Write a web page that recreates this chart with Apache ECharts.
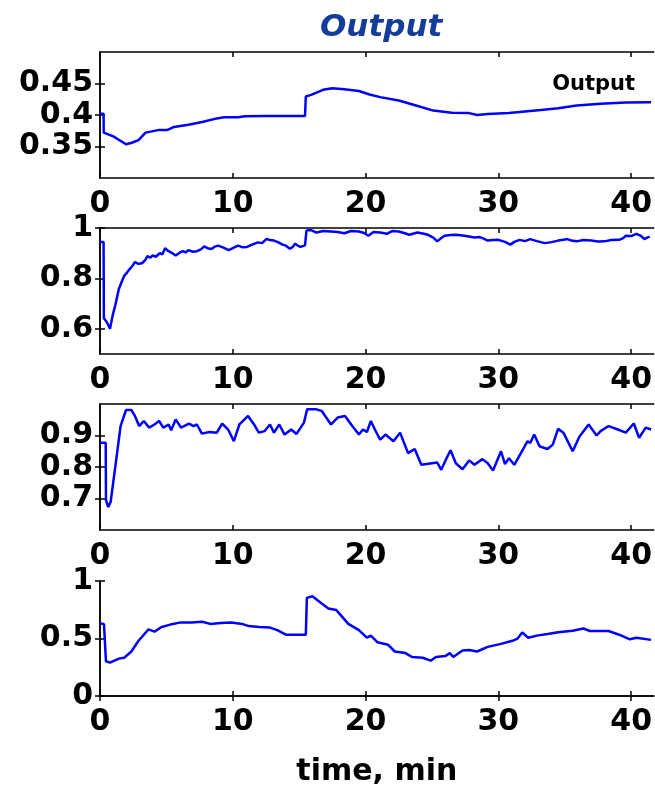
<!DOCTYPE html>
<html style="height: 100%">
<head>
  <meta charset="utf-8">
  <script src="https://cdn.jsdelivr.net/npm/echarts@6/dist/echarts.min.js"></script>
</head>
<body style="height: 100%; margin: 0; background: #fff">
<div id="main" style="width: 655px; height: 788px;"></div>
<script type="text/javascript">
// x tick labels (min) shared by all four panels
var xTicks = [0, 10, 20, 30, 40];

// panel 1 : Output
var t1 = [0, 0.27, 0.28, 1.0, 1.96, 2.4, 2.9, 3.43, 4.37, 5.04, 5.58, 6.65, 7.7, 8.8, 9.33, 10.4, 10.9, 12.5, 14.0, 15.44,
          15.5, 15.9, 16.8, 17.5, 18.4, 19.5, 20.3, 21.1, 22.5, 23.8, 25.1, 26.5, 27.8, 28.4, 29.2, 30.8, 31.8, 33.2,
          34.5, 35.9, 37.7, 39.6, 41.5];
var y1 = [0.402, 0.402, 0.372, 0.366, 0.3535, 0.356, 0.360, 0.372, 0.376, 0.376, 0.381, 0.3845, 0.389, 0.3946, 0.3963,
          0.3963, 0.398, 0.3984, 0.3984, 0.3984, 0.4294, 0.432, 0.440, 0.4423, 0.441, 0.438, 0.4326, 0.4284, 0.423,
          0.415, 0.407, 0.4037, 0.403, 0.400, 0.4016, 0.403, 0.4053, 0.408, 0.4107, 0.415, 0.4177, 0.4198, 0.4203];
var yTicks1 = [0.35, 0.4, 0.45];

// panel 2
var t2 = [0, 0.27, 0.29, 0.48, 0.62, 0.75, 0.97, 1.15, 1.42, 1.62, 1.82, 2.02, 2.22, 2.45, 2.63, 2.9, 3.16, 3.4, 3.57,
          3.8, 3.97, 4.2, 4.5, 4.7, 4.9, 5.1, 5.3, 5.5, 5.7, 6.0, 6.25, 6.45, 6.65, 7.0, 7.3, 7.6, 7.85, 8.1, 8.4, 8.65,
          8.9, 9.3, 9.7, 10.0, 10.4, 10.7, 11.07, 11.5, 11.9, 12.2, 12.55, 12.8, 13.1, 13.4, 13.75, 14.0, 14.3, 14.5,
          14.7, 14.9, 15.1, 15.44, 15.55, 15.9, 16.3, 16.8, 17.4, 17.9, 18.4, 18.9, 19.5, 19.9, 20.2, 20.6, 21.1, 21.6,
          22.0, 22.5, 22.9, 23.3, 23.9, 24.3, 24.7, 25.1, 25.4, 25.7, 25.95, 26.4, 26.8, 27.3, 27.8, 28.2, 28.6, 28.9,
          29.2, 29.6, 30.0, 30.5, 30.9, 31.2, 31.6, 32.0, 32.4, 32.9, 33.5, 34.0, 34.5, 34.9, 35.2, 35.5, 35.9, 36.4,
          37.0, 37.5, 38.0, 38.5, 39.1, 39.4, 39.6, 40.0, 40.4, 40.7, 41.0, 41.2, 41.4];
var y2 = [0.944, 0.944, 0.642, 0.629, 0.615, 0.600, 0.657, 0.693, 0.758, 0.785, 0.810, 0.822, 0.836, 0.850, 0.865, 0.858,
          0.860, 0.872, 0.888, 0.882, 0.891, 0.886, 0.900, 0.896, 0.920, 0.910, 0.904, 0.898, 0.891, 0.902, 0.908, 0.903,
          0.912, 0.906, 0.908, 0.915, 0.927, 0.920, 0.917, 0.926, 0.930, 0.922, 0.912, 0.920, 0.930, 0.924, 0.925, 0.935,
          0.943, 0.940, 0.957, 0.952, 0.950, 0.944, 0.934, 0.930, 0.918, 0.924, 0.938, 0.930, 0.925, 0.931, 0.990, 0.992,
          0.982, 0.988, 0.986, 0.984, 0.979, 0.988, 0.986, 0.980, 0.969, 0.984, 0.982, 0.977, 0.988, 0.986, 0.980, 0.973,
          0.982, 0.978, 0.973, 0.962, 0.947, 0.960, 0.969, 0.972, 0.973, 0.970, 0.966, 0.962, 0.964, 0.958, 0.950, 0.952,
          0.953, 0.945, 0.934, 0.945, 0.953, 0.948, 0.956, 0.948, 0.940, 0.944, 0.950, 0.953, 0.956, 0.950, 0.947, 0.952,
          0.950, 0.946, 0.947, 0.952, 0.953, 0.960, 0.969, 0.968, 0.977, 0.970, 0.956, 0.962, 0.966];
var yTicks2 = [0.6, 0.8, 1];

// panel 3
var t3 = [0, 0.43, 0.45, 0.62, 0.8, 1.15, 1.55, 1.96, 2.36, 2.63, 2.95, 3.3, 3.7, 4.1, 4.45, 4.77, 5.17, 5.36, 5.7, 6.1,
          6.7, 7.05, 7.3, 7.67, 8.25, 8.8, 9.2, 9.65, 10.08, 10.5, 11.15, 11.6, 11.96, 12.4, 12.8, 13.1, 13.5, 13.9, 14.4,
          14.8, 15.36, 15.6, 16.3, 16.7, 17.4, 17.9, 18.45, 19.0, 19.5, 19.8, 20.1, 20.4, 20.7, 21.1, 21.5, 22.1, 22.6,
          23.2, 23.7, 24.2, 25.0, 25.4, 25.7, 26.1, 26.4, 26.8, 27.3, 27.8, 28.2, 28.8, 29.2, 29.6, 30.2, 30.5, 30.8,
          31.2, 31.7, 32.2, 32.4, 32.7, 33.1, 33.7, 34.1, 34.5, 34.9, 35.6, 36.1, 36.8, 37.4, 37.7, 38.3, 39.0, 39.6,
          40.2, 40.6, 41.1, 41.5];
var y3 = [0.877, 0.877, 0.695, 0.673, 0.689, 0.800, 0.930, 0.981, 0.981, 0.962, 0.930, 0.946, 0.925, 0.935, 0.946, 0.925,
          0.935, 0.917, 0.951, 0.925, 0.938, 0.930, 0.935, 0.906, 0.911, 0.909, 0.938, 0.919, 0.882, 0.935, 0.962, 0.935,
          0.909, 0.914, 0.935, 0.909, 0.935, 0.903, 0.919, 0.905, 0.941, 0.983, 0.983, 0.978, 0.935, 0.957, 0.962, 0.930,
          0.903, 0.919, 0.911, 0.946, 0.919, 0.887, 0.903, 0.882, 0.909, 0.844, 0.857, 0.807, 0.812, 0.814, 0.791, 0.828,
          0.853, 0.812, 0.793, 0.821, 0.807, 0.825, 0.812, 0.789, 0.850, 0.809, 0.828, 0.807, 0.844, 0.882, 0.876, 0.903,
          0.866, 0.857, 0.871, 0.921, 0.909, 0.850, 0.896, 0.935, 0.900, 0.914, 0.930, 0.919, 0.909, 0.938, 0.893, 0.925,
          0.919];
var yTicks3 = [0.7, 0.8, 0.9];

// panel 4
var t4 = [0, 0.3, 0.43, 0.45, 0.75, 1.42, 1.82, 2.36, 2.9, 3.3, 3.65, 4.1, 4.64, 5.3, 6.1, 6.9, 7.7, 8.3, 9.1, 9.9, 10.7,
          11.2, 12.0, 12.8, 13.35, 14.0, 14.7, 15.5, 15.58, 16.0, 16.6, 17.2, 17.8, 18.7, 19.5, 20.1, 20.4, 20.9, 21.7,
          22.2, 23.0, 23.5, 24.3, 24.9, 25.3, 26.0, 26.35, 26.6, 27.3, 27.8, 28.4, 29.2, 30.2, 31.05, 31.45, 31.8, 32.25,
          32.9, 33.7, 34.5, 35.6, 36.4, 36.9, 38.3, 39.1, 39.9, 40.4, 41.5];
var y4 = [0.632, 0.625, 0.621, 0.301, 0.291, 0.325, 0.333, 0.387, 0.480, 0.533, 0.579, 0.560, 0.600, 0.621, 0.640, 0.640,
          0.645, 0.627, 0.635, 0.640, 0.627, 0.608, 0.600, 0.595, 0.573, 0.533, 0.533, 0.533, 0.853, 0.867, 0.813, 0.760,
          0.747, 0.627, 0.573, 0.507, 0.525, 0.467, 0.445, 0.387, 0.373, 0.339, 0.333, 0.307, 0.339, 0.347, 0.373, 0.339,
          0.395, 0.400, 0.387, 0.427, 0.453, 0.480, 0.499, 0.552, 0.507, 0.525, 0.539, 0.555, 0.568, 0.587, 0.565, 0.565,
          0.533, 0.493, 0.507, 0.488];
var yTicks4 = [0, 0.5, 1];

var panels = [
    {name: 'Output', t: t1, y: y1, min: 0.3, max: 0.5, ticks: yTicks1, top: 52},
    {name: 'Signal 2', t: t2, y: y2, min: 0.5, max: 1, ticks: yTicks2, top: 228},
    {name: 'Signal 3', t: t3, y: y3, min: 0.6, max: 1, ticks: yTicks3, top: 404},
    {name: 'Signal 4', t: t4, y: y4, min: 0, max: 1, ticks: yTicks4, top: 581}
];

var font = 'DejaVu Sans';
var axisLineStyle = {color: '#000', width: 1.5};
var grids = [], xAxes = [], yAxes = [], series = [];

panels.forEach(function (p, i) {
    grids.push({left: 100, right: 0, top: p.top, height: 126});
    // bottom x axis with labels
    xAxes.push({
        type: 'value', gridIndex: i, min: 0, max: 41.7, position: 'bottom',
        axisLine: {lineStyle: axisLineStyle},
        axisTick: {inside: true, length: 5, customValues: xTicks, lineStyle: axisLineStyle},
        axisLabel: {customValues: xTicks, margin: 11, color: '#000', fontFamily: font, fontWeight: 'bold', fontSize: 30},
        splitLine: {show: false},
        name: i === 3 ? 'time, min' : '',
        nameLocation: 'middle', nameGap: 61,
        nameTextStyle: {color: '#000', fontFamily: font, fontWeight: 'bold', fontSize: 30}
    });
    // top x axis, box edge only
    xAxes.push({
        type: 'value', gridIndex: i, min: 0, max: 41.7, position: 'top',
        axisLine: {lineStyle: axisLineStyle},
        axisTick: {inside: true, length: 5, customValues: xTicks, lineStyle: axisLineStyle},
        axisLabel: {show: false}, splitLine: {show: false}
    });
    yAxes.push({
        type: 'value', gridIndex: i, min: p.min, max: p.max, position: 'left',
        axisLine: {show: true, lineStyle: axisLineStyle},
        axisTick: {show: true, inside: true, length: 5, customValues: p.ticks, lineStyle: axisLineStyle},
        axisLabel: {customValues: p.ticks, margin: 7, color: '#000', fontFamily: font, fontWeight: 'bold', fontSize: 30},
        splitLine: {show: false}
    });
    yAxes.push({
        type: 'value', gridIndex: i, min: p.min, max: p.max, position: 'right',
        axisLine: {show: true, lineStyle: axisLineStyle},
        axisTick: {show: true, inside: true, length: 5, customValues: p.ticks, lineStyle: axisLineStyle},
        axisLabel: {show: false}, splitLine: {show: false}
    });
    series.push({
        name: p.name, type: 'line', xAxisIndex: 2 * i, yAxisIndex: 2 * i,
        showSymbol: false, animation: false,
        lineStyle: {color: '#0000ff', width: 2.5}, itemStyle: {color: '#0000ff'},
        data: p.t.map(function (v, k) { return [v, p.y[k]]; })
    });
});

var myChart = echarts.init(document.getElementById('main'));
var option = {
    backgroundColor: '#fff',
    title: {
        text: 'Output', left: 315, top: 7,
        textStyle: {color: '#143c9a', fontFamily: font, fontWeight: 'bold', fontStyle: 'italic', fontSize: 31}
    },
    legend: {
        data: [{name: 'Output', icon: 'none'}],
        right: 15, top: 69, itemWidth: 0, itemGap: 0,
        textStyle: {color: '#000', fontFamily: font, fontWeight: 'bold', fontSize: 21}
    },
    grid: grids,
    xAxis: xAxes,
    yAxis: yAxes,
    series: series
};
myChart.setOption(option);
</script>
</body>
</html>
